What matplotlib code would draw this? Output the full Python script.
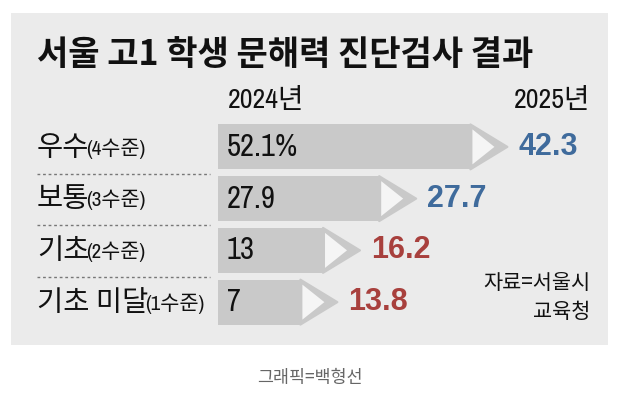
import matplotlib
matplotlib.use("Agg")
import matplotlib.pyplot as plt
from matplotlib.patches import Rectangle, Polygon

categories = ["우수", "보통", "기초", "기초 미달"]
levels = ["(4수준)", "(3수준)", "(2수준)", "(1수준)"]
v2024 = [52.1, 27.9, 13, 7]
v2025 = [42.3, 27.7, 16.2, 13.8]
labels2024 = ["52.1%", "27.9", "13", "7"]
colors2025 = ["#3f6b9c", "#3f6b9c", "#a8403d", "#a8403d"]

KR = ["Noto Sans CJK KR", "DejaVu Sans"]
NARROW = "Archivo Narrow"

W, H = 618, 397
fig = plt.figure(figsize=(W / 100, H / 100), dpi=100)
fig.patch.set_facecolor("white")

# pixel-space helper axes for the panel & text layout
bg = fig.add_axes([0, 0, 1, 1])
bg.set_xlim(0, W)
bg.set_ylim(H, 0)
bg.axis("off")
bg.add_patch(Rectangle((11, 13), 597, 332, facecolor="#ebebeb", edgecolor="none"))

bg.text(37, 54, "서울 고1 학생 문해력 진단검사 결과", family=KR, fontsize=24.5,
        fontweight="bold", va="center", ha="left", color="#111111")
bg.text(228, 101, "2024년", family=[NARROW] + KR, fontsize=20, va="center", ha="left", color="#111111")
bg.text(590, 101, "2025년", family=[NARROW] + KR, fontsize=20, va="center", ha="right", color="#111111")

# bar area in data units
ax = fig.add_axes([218 / W, 1 - 328 / H, 390 / W, 207 / H])
px = 3.77  # pixels per percentage point
offset = 56 / px
ax.set_xlim(-offset, -offset + 390 / px)
ax.set_ylim(3.5, -0.5)
ax.axis("off")

row_px = 51.75
bar_h = 45 / row_px
tip = 37 / px
for i, (a, b) in enumerate(zip(v2024, v2025)):
    ax.barh(i, a + offset, left=-offset, height=bar_h, color="#c9c9c9", edgecolor="none")
    top, bot = i - bar_h / 2, i + bar_h / 2
    ax.add_patch(Polygon([(a, top), (a + tip, i), (a, bot)], closed=True,
                         facecolor="#c9c9c9", edgecolor="#c9c9c9", linewidth=1.5, joinstyle="round"))
    inset = 5 / row_px
    ax.add_patch(Polygon([(a + 2 / px, top + inset), (a + 24 / px, i), (a + 2 / px, bot - inset)],
                         closed=True, facecolor="#f5f5f5", edgecolor="none"))
    ax.annotate(labels2024[i], (-offset, i), xytext=(9, 0), textcoords="offset pixels",
                family=NARROW, fontsize=22, va="center", ha="left", color="#111111")
    ax.annotate(f"{b}", (a + tip, i), xytext=(11, 0), textcoords="offset pixels",
                family="Liberation Sans", fontweight="bold", fontsize=22, va="center",
                ha="left", color=colors2025[i])

# row labels and dotted separators
row_y = [147.5 + row_px * i for i in range(4)]
for i, y in enumerate(row_y):
    t = bg.text(37, y, categories[i], family=KR, fontsize=20.5, va="center", ha="left", color="#111111")
    fig.canvas.draw()
    bb = t.get_window_extent()
    bg.text(37 + bb.width - 3, y + 1, levels[i], family=[NARROW] + KR, fontsize=15,
            va="center", ha="left", color="#111111")
    if i < 3:
        bg.plot([37, 210], [y + 26, y + 26], color="#777777", linewidth=1, linestyle=(0, (2, 2)))

bg.text(590, 283, "자료=서울시", family=KR, fontsize=15, va="center", ha="right", color="#111111")
bg.text(590, 312, "교육청", family=KR, fontsize=15, va="center", ha="right", color="#111111")
bg.text(310, 378, "그래픽=백형선", family=KR, fontsize=12.5, va="center", ha="center", color="#666666")

fig.savefig("out.png", dpi=100)
